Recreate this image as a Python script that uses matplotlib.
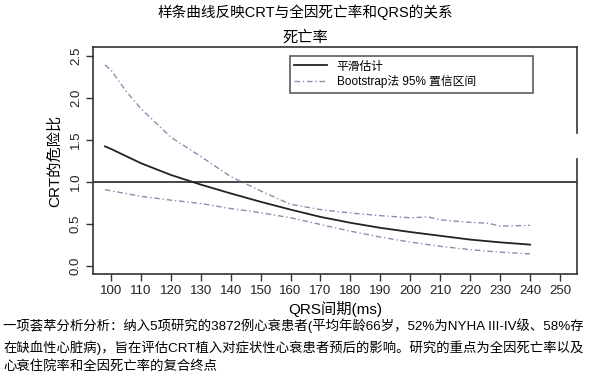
import matplotlib
matplotlib.use("Agg")
import matplotlib.pyplot as plt

plt.rcParams["font.family"] = ["Liberation Sans", "Noto Sans CJK SC", "DejaVu Sans"]

# smoothed hazard ratio estimate
qrs_fit = [98, 100, 110, 120, 130, 140, 150, 160, 170, 180, 190, 200, 210, 220, 230, 240]
hr_fit = [1.42, 1.39, 1.22, 1.08, 0.965, 0.86, 0.76, 0.667, 0.58, 0.51, 0.45, 0.40, 0.355, 0.31, 0.277, 0.25]

# bootstrap 95% CI bounds
qrs_upper = [98, 100, 105, 110, 120, 130, 140, 150, 160, 170, 180, 190, 200, 206, 210, 220, 226, 230, 240]
hr_upper = [2.39, 2.33, 2.08, 1.87, 1.53, 1.30, 1.06, 0.89, 0.73, 0.667, 0.627, 0.595, 0.57, 0.58, 0.545, 0.515, 0.505, 0.47, 0.48]
qrs_lower = [98, 110, 120, 130, 140, 150, 160, 170, 180, 190, 200, 210, 220, 230, 240]
hr_lower = [0.905, 0.825, 0.78, 0.74, 0.68, 0.63, 0.57, 0.49, 0.41, 0.34, 0.28, 0.23, 0.19, 0.16, 0.14]

x_ticks = list(range(100, 251, 10))
y_ticks = [0.0, 0.5, 1.0, 1.5, 2.0, 2.5]

title = "样条曲线反映CRT与全因死亡率和QRS的关系"
subtitle = "死亡率"
caption = ("一项荟萃分析分析：纳入5项研究的3872例心衰患者(平均年龄66岁，52%为NYHA III-IV级、58%存\n"
           "在缺血性心脏病)，旨在评估CRT植入对症状性心衰患者预后的影响。研究的重点为全因死亡率以及\n"
           "心衰住院率和全因死亡率的复合终点")

ci_color = "#8a8db0"
edge = "#333333"

fig = plt.figure(figsize=(6.03, 3.77), dpi=100)
ax = fig.add_axes([0.1542, 0.2732, 0.8027, 0.6013])

ax.axhline(1.0, color="#444444", lw=1.4)
ax.plot(qrs_fit, hr_fit, color="#222222", lw=1.3, label="平滑估计")
ax.plot(qrs_upper, hr_upper, color=ci_color, lw=1.0, ls=(0, (4, 2, 1, 2)),
        label="Bootstrap法 95% 置信区间")
ax.plot(qrs_lower, hr_lower, color=ci_color, lw=1.0, ls=(0, (4, 2, 1, 2)))

ax.set_xlim(94, 255.7)
ax.set_ylim(-0.1, 2.6)
ax.set_xticks(x_ticks)
ax.set_yticks(y_ticks)
ax.set_yticklabels([f"{v:.1f}" for v in y_ticks], rotation=90, va="center")
ax.tick_params(axis="both", direction="out", length=5, width=1, color=edge,
               labelsize=9.5, labelcolor="#222222")
ax.tick_params(axis="x", pad=3)
ax.tick_params(axis="y", pad=3)

for s in ["left", "top", "bottom"]:
    ax.spines[s].set_color(edge)
    ax.spines[s].set_linewidth(1.2)
# right border has a break in the reference
ax.spines["right"].set_visible(False)
ax.plot([1, 1], [0, 0.507], transform=ax.transAxes, color=edge, lw=1.2, clip_on=False)
ax.plot([1, 1], [0.621, 1], transform=ax.transAxes, color=edge, lw=1.2, clip_on=False)

ax.set_xlabel("QRS间期(ms)", fontsize=11, labelpad=3)
ax.set_ylabel("CRT的危险比", fontsize=11, labelpad=6)

leg = ax.legend(loc="upper left", bbox_to_anchor=(0.407, 0.814, 0.502, 0.146),
                mode="expand", fontsize=8.5, frameon=True, fancybox=False,
                borderpad=0.35, handlelength=2.8, labelspacing=0.25, borderaxespad=0)
leg.get_frame().set_edgecolor(edge)
leg.get_frame().set_linewidth(1.2)

fig.text(0.506, 0.968, title, ha="center", va="center", fontsize=10.5)
fig.text(0.506, 0.902, subtitle, ha="center", va="center", fontsize=11)
fig.text(0.005, 0.083, caption, ha="left", va="center", fontsize=9.6, linespacing=1.6)

fig.savefig("out.png", dpi=100)
